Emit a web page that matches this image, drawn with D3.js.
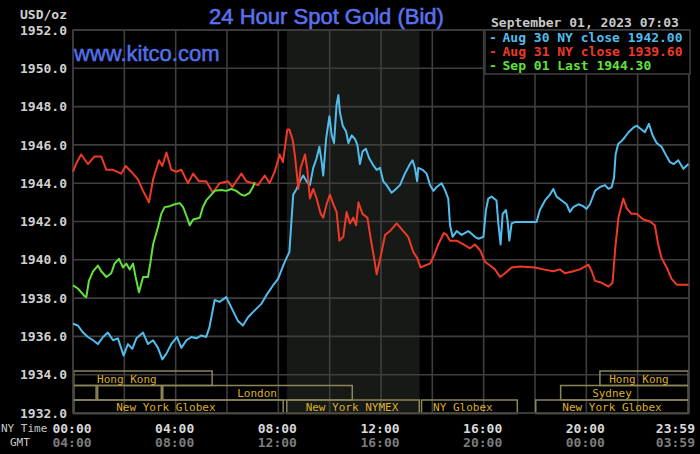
<!DOCTYPE html>
<html><head><meta charset="utf-8">
<script src="https://cdn.jsdelivr.net/npm/d3@7"></script>
<style>html,body{margin:0;padding:0;background:#000;}svg{display:block;}</style>
</head><body>
<svg id="chart" width="700" height="454"></svg>
<script>
// ---- data (hour of NY day, price USD/oz) ----
const aug30 = [[0,1936.66],[0.19,1936.57],[0.39,1936.2],[0.58,1935.97],[0.78,1935.8],[0.97,1935.6],[1.17,1935.97],[1.36,1936.2],[1.56,1935.8],[1.75,1935.9],[1.97,1935.0],[2.14,1935.6],[2.31,1935.35],[2.47,1935.9],[2.73,1936.2],[2.92,1935.6],[3.12,1935.8],[3.31,1935.4],[3.48,1934.8],[3.64,1935.1],[3.83,1935.6],[4.05,1935.97],[4.22,1935.4],[4.42,1935.8],[4.61,1935.97],[4.81,1935.9],[5.0,1936.05],[5.19,1935.97],[5.32,1936.5],[5.52,1937.9],[5.71,1937.8],[5.97,1938.05],[6.17,1937.5],[6.43,1936.8],[6.62,1936.57],[6.82,1937.0],[7.08,1937.36],[7.34,1937.7],[7.53,1938.14],[7.79,1938.66],[7.99,1939.0],[8.19,1939.7],[8.32,1940.1],[8.43,1940.4],[8.52,1942.2],[8.58,1943.4],[8.71,1943.7],[8.84,1944.1],[8.97,1944.4],[9.10,1944.1],[9.23,1943.9],[9.36,1944.8],[9.49,1945.3],[9.6,1945.9],[9.69,1945.1],[9.75,1944.4],[9.86,1946.3],[9.99,1947.5],[10.08,1946.5],[10.17,1946.1],[10.27,1948.1],[10.34,1948.6],[10.40,1947.7],[10.51,1947.0],[10.64,1946.7],[10.73,1946.1],[10.86,1946.5],[10.99,1946.3],[11.08,1946.0],[11.18,1945.0],[11.28,1945.65],[11.41,1945.8],[11.54,1945.3],[11.67,1945.0],[11.83,1944.7],[11.96,1944.8],[12.09,1944.1],[12.22,1943.9],[12.41,1943.5],[12.54,1943.65],[12.74,1943.9],[12.93,1944.5],[13.13,1945.0],[13.23,1945.2],[13.32,1944.8],[13.41,1944.1],[13.45,1944.8],[13.62,1944.7],[13.78,1944.5],[13.91,1943.9],[14.04,1943.6],[14.17,1943.8],[14.36,1944.0],[14.49,1943.65],[14.62,1943.2],[14.69,1941.8],[14.79,1941.2],[14.95,1941.5],[15.14,1941.3],[15.40,1941.5],[15.66,1941.2],[15.79,1941.1],[15.99,1941.2],[16.09,1942.6],[16.18,1943.2],[16.31,1943.3],[16.5,1943.1],[16.57,1941.9],[16.66,1940.8],[16.74,1942.4],[16.87,1942.6],[16.93,1942.05],[17.0,1941.0],[17.09,1941.9],[17.22,1941.97],[18.06,1941.97],[18.19,1942.6],[18.39,1943.1],[18.58,1943.4],[18.71,1943.7],[18.84,1943.3],[19.04,1943.1],[19.23,1942.9],[19.36,1942.5],[19.49,1942.75],[19.69,1942.9],[19.88,1942.8],[20.01,1942.66],[20.14,1942.9],[20.34,1943.6],[20.53,1943.8],[20.73,1943.9],[20.86,1943.7],[20.99,1943.8],[21.08,1944.3],[21.14,1945.5],[21.24,1946.05],[21.37,1946.2],[21.5,1946.4],[21.64,1946.66],[21.83,1946.9],[21.96,1947.0],[22.15,1946.8],[22.28,1946.66],[22.44,1947.1],[22.58,1946.5],[22.74,1946.1],[22.93,1945.9],[23.13,1945.4],[23.26,1945.1],[23.41,1945.0],[23.58,1945.2],[23.78,1944.75],[23.98,1945.0]];

const aug31 = [[0,1944.6],[0.13,1945.04],[0.32,1945.5],[0.58,1945.0],[0.84,1945.4],[1.10,1945.4],[1.30,1944.7],[1.56,1944.7],[1.88,1944.5],[2.05,1944.9],[2.27,1944.6],[2.53,1944.2],[2.73,1943.6],[2.96,1943.0],[3.12,1944.2],[3.35,1945.2],[3.48,1944.9],[3.64,1945.6],[3.83,1944.7],[4.03,1944.6],[4.22,1944.7],[4.48,1944.0],[4.68,1944.5],[4.91,1944.1],[5.19,1944.1],[5.45,1943.5],[5.71,1944.0],[6.04,1944.1],[6.21,1943.8],[6.56,1944.5],[6.75,1944.1],[7.01,1944.0],[7.21,1943.9],[7.47,1944.4],[7.66,1944.0],[7.86,1944.6],[8.05,1945.5],[8.18,1945.1],[8.35,1946.8],[8.43,1946.8],[8.56,1946.26],[8.65,1945.4],[8.78,1943.7],[8.87,1944.8],[9.04,1945.5],[9.13,1944.7],[9.23,1943.2],[9.36,1943.7],[9.49,1943.2],[9.65,1942.4],[9.75,1942.2],[9.88,1942.9],[10.01,1943.4],[10.14,1942.9],[10.27,1942.5],[10.38,1941.0],[10.53,1941.2],[10.66,1942.5],[10.79,1941.9],[10.92,1942.2],[11.03,1941.8],[11.12,1943.0],[11.28,1942.4],[11.47,1942.2],[11.60,1941.1],[11.73,1940.1],[11.83,1939.25],[11.96,1940.0],[12.16,1941.3],[12.35,1941.5],[12.61,1941.9],[12.87,1941.5],[13.06,1941.2],[13.26,1940.4],[13.41,1940.1],[13.54,1939.6],[13.71,1939.7],[13.91,1939.8],[14.06,1940.2],[14.23,1940.8],[14.45,1941.4],[14.56,1941.3],[14.69,1941.0],[14.95,1941.0],[15.21,1940.8],[15.47,1940.6],[15.66,1940.8],[15.86,1940.5],[16.05,1939.9],[16.25,1939.7],[16.44,1939.5],[16.64,1939.1],[16.83,1939.3],[17.09,1939.6],[17.41,1939.65],[18.0,1939.6],[18.32,1939.5],[18.71,1939.4],[18.97,1939.5],[19.17,1939.3],[19.49,1939.4],[19.75,1939.5],[20.08,1939.75],[20.21,1939.4],[20.34,1938.9],[20.6,1938.8],[20.86,1938.6],[21.02,1938.8],[21.12,1940.5],[21.25,1942.2],[21.44,1943.2],[21.57,1942.7],[21.76,1942.4],[21.96,1942.4],[22.22,1942.1],[22.48,1942.0],[22.67,1941.8],[22.8,1940.8],[22.93,1940.1],[23.13,1939.6],[23.32,1939.0],[23.52,1938.7],[23.78,1938.7],[23.98,1938.7]];

const sep01 = [[0,1938.66],[0.19,1938.5],[0.45,1938.1],[0.52,1938.05],[0.62,1938.9],[0.78,1939.4],[0.97,1939.7],[1.10,1939.4],[1.30,1939.1],[1.49,1939.3],[1.62,1939.8],[1.79,1940.05],[1.95,1939.6],[2.08,1939.8],[2.21,1939.5],[2.34,1939.8],[2.44,1939.1],[2.57,1938.3],[2.73,1939.1],[2.92,1939.1],[3.01,1939.8],[3.12,1940.8],[3.31,1941.7],[3.44,1942.4],[3.57,1942.75],[3.77,1942.8],[3.96,1942.9],[4.16,1942.96],[4.29,1942.75],[4.42,1942.3],[4.55,1941.8],[4.68,1942.1],[4.94,1942.2],[5.06,1942.75],[5.19,1943.1],[5.39,1943.4],[5.52,1943.6],[5.78,1943.65],[5.97,1943.6],[6.17,1943.7],[6.36,1943.6],[6.56,1943.4],[6.69,1943.35],[6.88,1943.5],[7.01,1943.8],[7.08,1944.05]];

const legendLabels = ["Aug 30 NY close 1942.00", "Aug 31 NY close 1939.60", "Sep 01 Last 1944.30"];
const priceTicks = [1932,1934,1936,1938,1940,1942,1944,1946,1948,1950,1952];
const hourGrid = [0,2,4,6,8,10,12,14,16,18,20,22,24];
const timeTicks = [0,4,8,12,16,20,23.9833];
const nymexSession = [8.333, 13.5];
// trading sessions: row, start hour, end hour, label, label centre hour
const sessionRows = [0,0,1,1,1,1,2,2,2,2];
const sessionStart = [-1.25,20.5,-1,0.93,3.47,18.97,-6,8.3,13.55,18.0];
const sessionEnd = [5.45,24,0.93,3.47,10.91,24,8.22,13.52,17.34,24];
const sessionLabels = ["Hong Kong","Hong Kong","","","London","Sydney","New York Globex","New York NYMEX","NY Globex","New York Globex"];
const sessionLabelAt = [2.1,22.05,0,0,7.17,21.0,3.62,10.87,15.19,21.0];

// ---- drawing ----
const svg = d3.select("#chart");
const W = 700, H = 454;
const m = {l:73, r:11, t:30, b:41};
const x = d3.scaleLinear().domain([0,24]).range([m.l, W - m.r]);
const y = d3.scaleLinear().domain([1932,1952]).range([H - m.b, m.t]);
const mono = "'DejaVu Sans Mono', monospace";
const sans = "'Liberation Sans', Arial, sans-serif";
const gridCol = "#3e3e3e";

svg.append("rect").attr("width",W).attr("height",H).attr("fill","#000");

// NYMEX shaded area
svg.append("rect")
  .attr("x", x(nymexSession[0])).attr("y", y(1952))
  .attr("width", x(nymexSession[1]) - x(nymexSession[0]))
  .attr("height", y(1932) - y(1952))
  .attr("fill", "#161916");

// grid
svg.append("g").selectAll("line").data(priceTicks).join("line")
  .attr("x1", x(0)).attr("x2", x(24))
  .attr("y1", d => y(d)).attr("y2", d => y(d))
  .attr("stroke", gridCol).attr("stroke-width", 1.6);
svg.append("g").selectAll("line").data(hourGrid).join("line")
  .attr("x1", d => x(d)).attr("x2", d => x(d))
  .attr("y1", y(1952)).attr("y2", y(1932))
  .attr("stroke", gridCol).attr("stroke-width", 1.6);

// y axis labels
const yAxis = d3.axisLeft(y).tickValues(priceTicks).tickFormat(d3.format(".1f")).tickSize(0).tickPadding(6);
const yg = svg.append("g").attr("transform", `translate(${m.l},0)`).call(yAxis);
yg.select(".domain").remove();
yg.selectAll("text").attr("fill","#d0d0d0").style("font-family",mono).style("font-size","13px").style("font-weight","bold");

svg.append("text").attr("x", 67).attr("y", 14).attr("dy","0.35em").attr("text-anchor","end")
  .attr("fill","#d0d0d0").style("font-family",mono).style("font-size","13px").style("font-weight","bold").text("USD/oz");

// session boxes
const sessions = sessionRows.map((r,i) => ({row:r, s:sessionStart[i], e:sessionEnd[i], label:sessionLabels[i], at:sessionLabelAt[i]}));
const rowTop = [371, 385.5, 400];
const rowH = [14.5, 14.5, 13.5];
const sg = svg.append("g");
sg.selectAll("rect").data(sessions).join("rect")
  .attr("x", d => x(Math.max(0,d.s)) + 0.75)
  .attr("y", d => rowTop[d.row])
  .attr("width", d => x(Math.min(24,d.e)) - x(Math.max(0,d.s)) - 1.5)
  .attr("height", d => rowH[d.row])
  .attr("fill","none").attr("stroke","#8c8658").attr("stroke-width",1.5);
sg.selectAll("text").data(sessions.filter(d => d.label)).join("text")
  .attr("x", d => x(d.at)).attr("y", d => rowTop[d.row] + rowH[d.row]/2 + 0.5)
  .attr("dy","0.36em").attr("text-anchor","middle")
  .attr("fill","#dcae2c").style("font-family",mono).style("font-size","11px")
  .text(d => d.label);

// plot frame
svg.append("rect").attr("x", x(0)).attr("y", y(1952)).attr("width", x(24)-x(0)).attr("height", y(1932)-y(1952))
  .attr("fill","none").attr("stroke",gridCol).attr("stroke-width",1.6);

// lines
const line = d3.line().x(d => x(d[0])).y(d => y(d[1]));
const series = [
  {data: aug30, color: "#52bdec"},
  {data: aug31, color: "#ee3a26"},
  {data: sep01, color: "#62e23c"}
];
svg.append("g").selectAll("path").data(series).join("path")
  .attr("d", d => line(d.data)).attr("fill","none")
  .attr("stroke", d => d.color).attr("stroke-width", 2).attr("stroke-linejoin","round");

// time axis labels
const fmt = h => { const mins = Math.round(h*60); return d3.format("02d")(Math.floor(mins/60)%24) + ":" + d3.format("02d")(mins%60); };
const tg = svg.append("g");
tg.selectAll("text.ny").data(timeTicks).join("text").attr("class","ny")
  .attr("x", (d,i) => i === timeTicks.length-1 ? x(24)+6 : x(d)-1)
  .attr("y", 428).attr("dy","0.35em")
  .attr("text-anchor", (d,i) => i === timeTicks.length-1 ? "end" : "middle")
  .attr("fill","#d8d8d8").style("font-family",mono).style("font-size","13px").style("font-weight","bold")
  .text(d => fmt(d));
tg.selectAll("text.gmt").data(timeTicks).join("text").attr("class","gmt")
  .attr("x", (d,i) => i === timeTicks.length-1 ? x(24)+6 : x(d)-1)
  .attr("y", 442).attr("dy","0.35em")
  .attr("text-anchor", (d,i) => i === timeTicks.length-1 ? "end" : "middle")
  .attr("fill","#7c7c7c").style("font-family",mono).style("font-size","13px").style("font-weight","bold")
  .text(d => fmt(d + 4));
svg.append("text").attr("x",1).attr("y",428).attr("dy","0.35em").attr("fill","#c8c8c8")
  .style("font-family",mono).style("font-size","11px").text("NY Time");
svg.append("text").attr("x",10).attr("y",442).attr("dy","0.35em").attr("fill","#c8c8c8")
  .style("font-family",mono).style("font-size","11px").text("GMT");

// titles
svg.append("text").attr("x",326.5).attr("y",24).attr("text-anchor","middle")
  .attr("fill","#5a70ec").attr("stroke","#5a70ec").attr("stroke-width",0.6)
  .style("font-family",sans).style("font-size","22px").text("24 Hour Spot Gold (Bid)");
svg.append("text").attr("x",74).attr("y",61)
  .attr("fill","#5470ea").attr("stroke","#5470ea").attr("stroke-width",0.5)
  .style("font-family",sans).style("font-size","22px").text("www.kitco.com");

// legend
svg.append("text").attr("x",491).attr("y",22).attr("dy","0.35em").attr("fill","#c8c8c8")
  .style("font-family",mono).style("font-size","13px").style("font-weight","bold").text("September 01, 2023 07:03");
svg.append("rect").attr("x",485).attr("y",30).attr("width",205).attr("height",44)
  .attr("fill","#000").attr("stroke",gridCol).attr("stroke-width",1.6);
const lg = svg.append("g");
legendLabels.forEach((t,i) => {
  lg.append("text").attr("x",493).attr("y",37 + i*14).attr("dy","0.35em").attr("text-anchor","middle")
    .attr("fill",series[i].color).style("font-family",mono).style("font-size","13px").style("font-weight","bold").text("-");
  lg.append("text").attr("x",502.5).attr("y",37 + i*14).attr("dy","0.35em")
    .attr("fill",series[i].color).style("font-family",mono).style("font-size","13px").style("font-weight","bold").text(t);
});
</script>
</body></html>
